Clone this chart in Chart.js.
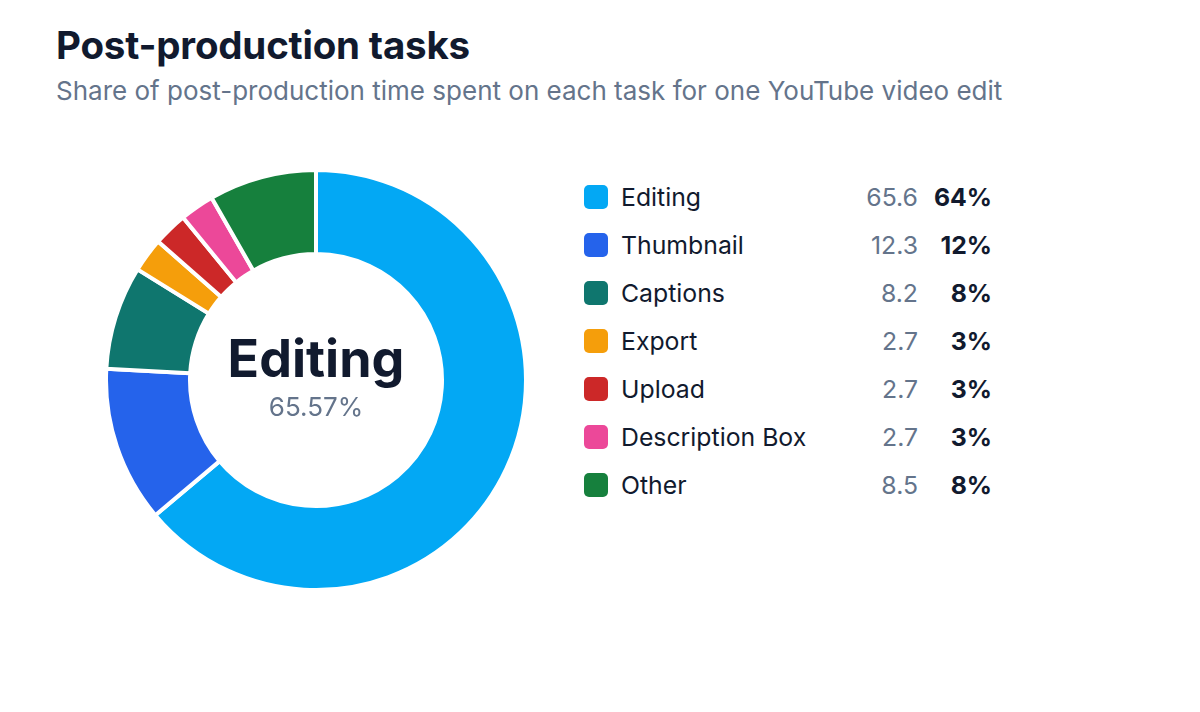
<!DOCTYPE html>
<html>
<head>
<meta charset="utf-8">
<script src="https://cdn.jsdelivr.net/npm/chart.js@4.4.1/dist/chart.umd.min.js"></script>
<style>
  body { margin: 0; background: #fff; font-family: Inter, "Noto Sans", sans-serif; }
  #wrap { position: relative; width: 1200px; height: 712px; }
  h1 { position: absolute; left: 56px; top: 22px; margin: 0; font-size: 38.5px; font-weight: 700; color: #111a2e; letter-spacing: -0.2px; }
  .sub { position: absolute; left: 56px; top: 75px; margin: 0; font-size: 26px; color: #64748b; }
  #box { position: absolute; left: 104px; top: 168px; width: 424px; height: 424px; }
  #legend { position: absolute; left: 584px; top: 173px; }
  .row { position: relative; height: 48px; width: 410px; }
  .sw { position: absolute; left: 0; top: 12px; width: 24px; height: 24px; border-radius: 5px; }
  .lab { position: absolute; left: 37px; top: 0; line-height: 48px; font-size: 24.8px; color: #111a2e; }
  .val { position: absolute; right: 76px; top: 0; line-height: 48px; font-size: 24.8px; color: #64748b; }
  .pct { position: absolute; right: 2px; top: 0; line-height: 48px; font-size: 24.8px; font-weight: 700; color: #111a2e; }
</style>
</head>
<body>
<div id="wrap">
  <h1>Post-production tasks</h1>
  <p class="sub">Share of post-production time spent on each task for one YouTube video edit</p>
  <div id="box"><canvas id="myChart"></canvas></div>
  <div id="legend"></div>
</div>
<script>
const categorias = ['Editing', 'Thumbnail', 'Captions', 'Export', 'Upload', 'Description Box', 'Other'];
const valores = [65.57, 12.3, 8.2, 2.7, 2.7, 2.7, 8.5];
const colores = ['#03a8f4', '#2563eb', '#0f766e', '#f59e0b', '#cc2828', '#ec4899', '#16803d'];

const total = valores.reduce((a, b) => a + b, 0);

// leyenda armada a mano con valor y porcentaje
document.getElementById('legend').innerHTML = categorias.map((c, i) => `
    <div class="row">
        <div class="sw" style="background:${colores[i]}"></div>
        <div class="lab">${c}</div>
        <div class="val">${valores[i].toFixed(1)}</div>
        <div class="pct">${Math.round(valores[i] / total * 100)}%</div>
    </div>
`).join('');

const textoCentro = {
    id: 'textoCentro',
    afterDraw(chart) {
        const meta = chart.getDatasetMeta(0).data[0];
        const ctx = chart.ctx;
        ctx.save();
        ctx.textAlign = 'center';
        ctx.fillStyle = '#111a2e';
        ctx.font = '700 52px Inter';
        ctx.fillText(categorias[0], meta.x, meta.y - 3);
        ctx.fillStyle = '#64748b';
        ctx.font = '400 26px Inter';
        ctx.fillText(valores[0].toFixed(2) + '%', meta.x, meta.y + 36);
        ctx.restore();
    }
};

const myChart = new Chart(document.getElementById('myChart'), {
    type: 'doughnut',
    data: {
        labels: categorias,
        datasets: [{
            data: valores,
            backgroundColor: colores,
            borderColor: '#ffffff',
            borderWidth: 4
        }]
    },
    options: {
        responsive: true,
        maintainAspectRatio: false,
        animation: false,
        cutout: '60%',
        plugins: {
            legend: { display: false },
            tooltip: { enabled: false }
        }
    },
    plugins: [textoCentro]
});
</script>
</body>
</html>
